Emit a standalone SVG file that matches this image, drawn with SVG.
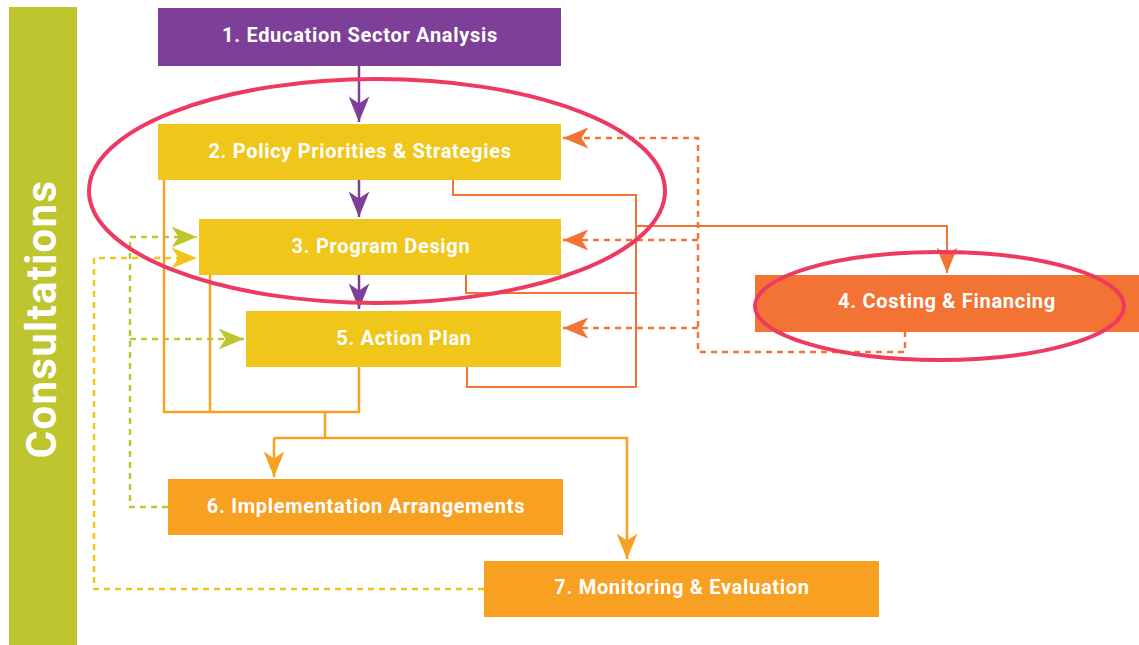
<svg xmlns="http://www.w3.org/2000/svg" width="1139" height="645" viewBox="0 0 1139 645">
<style>
.lbl{font-family:Roboto,"Liberation Sans",sans-serif;font-weight:bold;font-size:20px;letter-spacing:0.7px;fill:#fff;text-anchor:middle}
.big{font-family:Roboto,"Liberation Sans",sans-serif;font-weight:bold;font-size:42px;letter-spacing:1.3px;fill:#fff;text-anchor:middle}
.solidR{fill:none;stroke:#F37334;stroke-width:2}
.solidO{fill:none;stroke:#F7A021;stroke-width:2.5}
.pur{fill:none;stroke:#7E3F98;stroke-width:2.5}
.dashR{fill:none;stroke:#F37334;stroke-width:2.5;stroke-dasharray:6 5}
.dashG{fill:none;stroke:#BFC52F;stroke-width:2.5;stroke-dasharray:6 5}
.dashY{fill:none;stroke:#F1C61B;stroke-width:2.5;stroke-dasharray:6 5}
.ell{fill:none;stroke:#EE3A62;stroke-width:4}
</style>
<defs>
<marker id="aP" markerUnits="userSpaceOnUse" markerWidth="30" markerHeight="30" viewBox="-24 -12 26 24" refX="0" refY="0" orient="auto"><path d="M0,0 L-22,-9 L-16,0 L-22,9 Z" fill="#7E3F98"/></marker>
<marker id="aR" markerUnits="userSpaceOnUse" markerWidth="30" markerHeight="30" viewBox="-24 -12 26 24" refX="0" refY="0" orient="auto"><path d="M0,0 L-22,-9 L-16,0 L-22,9 Z" fill="#F37334"/></marker>
<marker id="aO" markerUnits="userSpaceOnUse" markerWidth="30" markerHeight="30" viewBox="-24 -12 26 24" refX="0" refY="0" orient="auto"><path d="M0,0 L-22,-9 L-16,0 L-22,9 Z" fill="#F7A021"/></marker>
<marker id="aG" markerUnits="userSpaceOnUse" markerWidth="30" markerHeight="30" viewBox="-24 -12 26 24" refX="0" refY="0" orient="auto"><path d="M0,0 L-22,-9 L-16,0 L-22,9 Z" fill="#BFC52F"/></marker>
<marker id="aY" markerUnits="userSpaceOnUse" markerWidth="30" markerHeight="30" viewBox="-24 -12 26 24" refX="0" refY="0" orient="auto"><path d="M0,0 L-22,-9 L-16,0 L-22,9 Z" fill="#F1C61B"/></marker>
</defs>
<rect width="1139" height="645" fill="#fff"/>

<g id="consultations">
<rect x="9" y="7" width="68" height="640" fill="#BFC52F"/>
<text class="big" transform="translate(56,319) rotate(-90)">Consultations</text>
</g>

<g id="connectors">
<path class="pur" d="M359,66 V122" marker-end="url(#aP)"/>
<path class="pur" d="M359,180 V217" marker-end="url(#aP)"/>
<path class="pur" d="M359,275 V309" marker-end="url(#aP)"/>

<path class="solidR" d="M453,180 V195 H636 V387 H467 V367"/>
<path class="solidR" d="M466,275 V293 H636"/>
<path class="solidR" d="M636,226 H947 V273" marker-end="url(#aR)"/>

<path class="dashR" d="M905,331 V352 H698 V138 H563" marker-end="url(#aR)"/>
<path class="dashR" d="M698,240 H563" marker-end="url(#aR)"/>
<path class="dashR" d="M698,328 H563" marker-end="url(#aR)"/>

<path class="solidO" d="M164,180 V412 H359 V367"/>
<path class="solidO" d="M210,275 V412"/>
<path class="solidO" d="M325,412 V438"/>
<path class="solidO" d="M274,438 H627 V559" marker-end="url(#aO)"/>
<path class="solidO" d="M274,438 V477" marker-end="url(#aO)"/>

<path class="dashG" d="M168,507 H130 V237 H197" marker-end="url(#aG)"/>
<path class="dashG" d="M130,339 H244" marker-end="url(#aG)"/>
<path class="dashY" d="M484,589 H94 V258 H197" marker-end="url(#aY)"/>
</g>

<g id="node1">
<rect x="158" y="8" width="403" height="58" fill="#7E3F98"/>
<text class="lbl" x="360" y="42">1. Education Sector Analysis</text>
</g>
<g id="node2">
<rect x="158" y="124" width="403" height="56" fill="#F1C61B"/>
<text class="lbl" x="360" y="158">2. Policy Priorities &amp; Strategies</text>
</g>
<g id="node3">
<rect x="199" y="219" width="362" height="56" fill="#F1C61B"/>
<text class="lbl" x="381" y="253">3. Program Design</text>
</g>
<g id="node5">
<rect x="246" y="311" width="315" height="56" fill="#F1C61B"/>
<text class="lbl" x="404" y="345">5. Action Plan</text>
</g>
<g id="node4">
<rect x="755" y="275" width="384" height="57" fill="#F37334"/>
<text class="lbl" x="947" y="308">4. Costing &amp; Financing</text>
</g>
<g id="node6">
<rect x="168" y="479" width="395" height="56" fill="#F7A021"/>
<text class="lbl" x="366" y="513">6. Implementation Arrangements</text>
</g>
<g id="node7">
<rect x="484" y="561" width="395" height="56" fill="#F7A021"/>
<text class="lbl" x="682" y="594">7. Monitoring &amp; Evaluation</text>
</g>

<g id="highlights">
<ellipse class="ell" cx="377" cy="191" rx="288" ry="112"/>
<ellipse class="ell" cx="939.5" cy="306" rx="184.5" ry="54"/>
</g>
</svg>
